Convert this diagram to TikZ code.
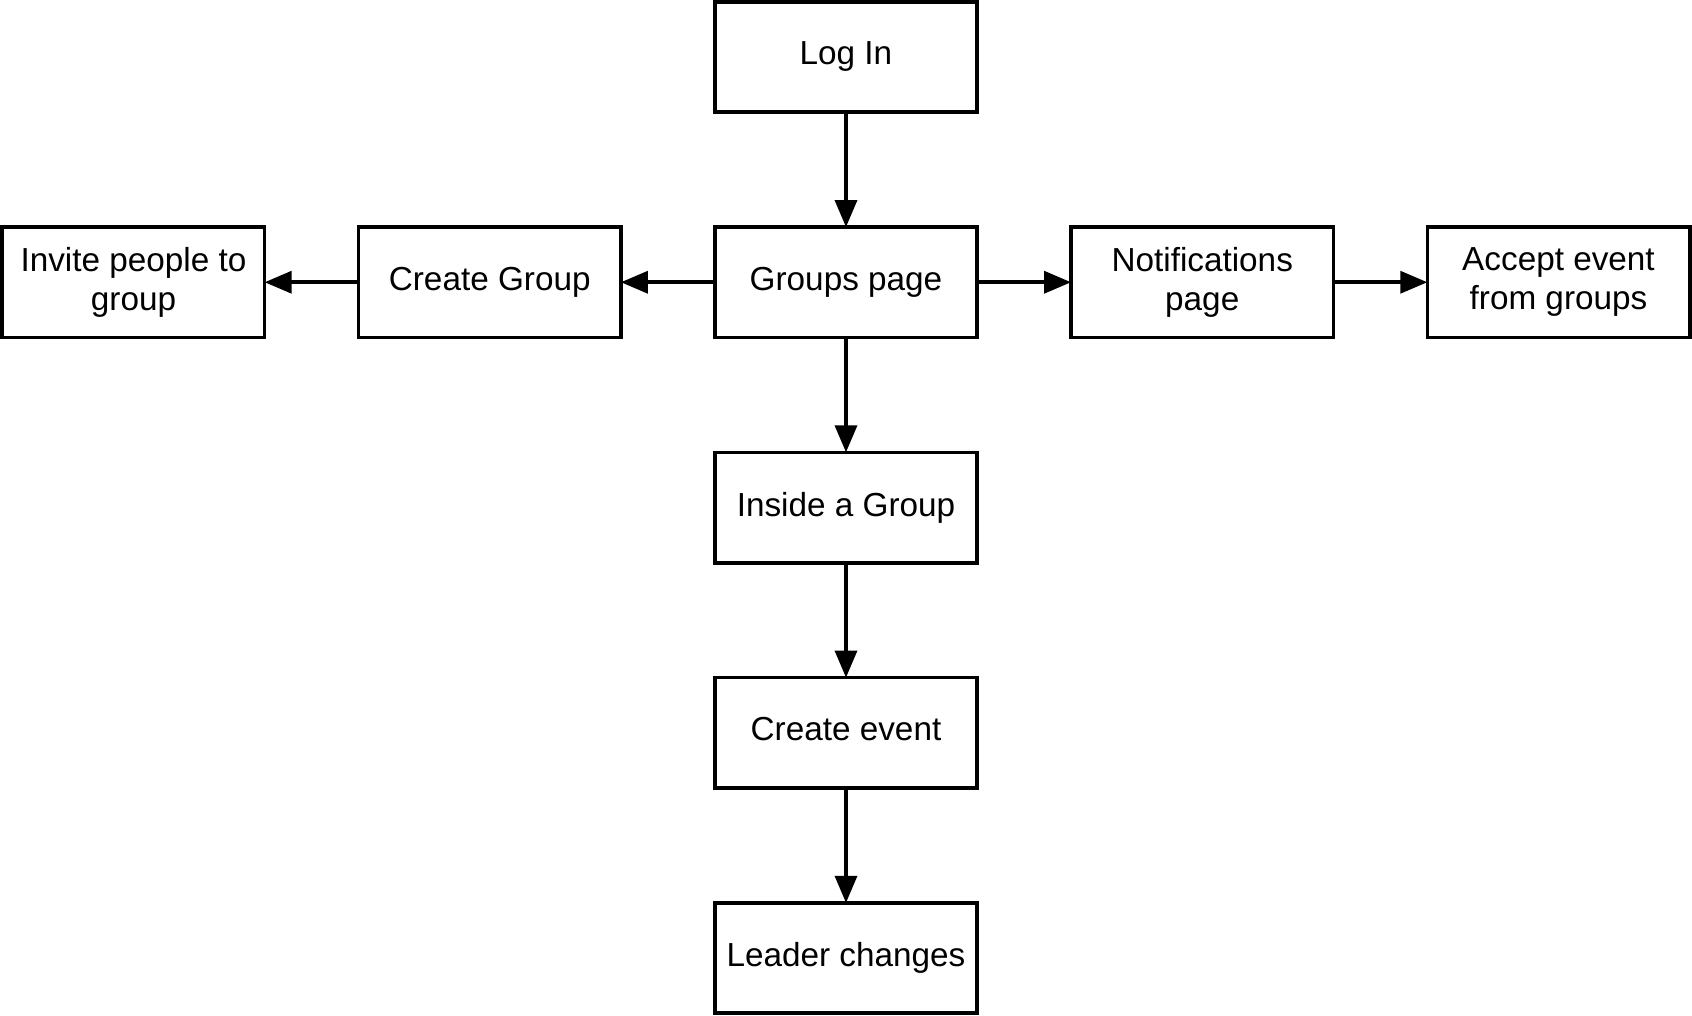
\documentclass[tikz,border=0pt]{standalone}
\usepackage{fontspec}
\setmainfont{Liberation Sans}
\usepackage{tikz}
\usetikzlibrary{positioning}
\usetikzlibrary{arrows.meta}

\tikzset{
  page/.style={draw, line width=3.6pt, outer sep=0pt, minimum width=262.4pt, minimum height=110.4pt,
    inner sep=0pt, text depth=7pt, align=center, font=\fontsize{33.3}{38.5}\selectfont},
  flow/.style={line width=3.6pt, -{Triangle[length=27pt,width=22pt]}}
}

\begin{document}
\begin{tikzpicture}

  \useasboundingbox (-846pt,57pt) rectangle (846pt,-959pt);

  % Define nodes
  \node[page]                                  (login)  {Log In};
  \node[page, below=114.85pt of login]         (groups) {Groups page};
  \node[page, left=93.85pt of groups]          (create) {Create Group};
  \node[page, left=93.85pt of create]          (invite) {Invite people to\\group};
  \node[page, right=93.85pt of groups]         (notif)  {Notifications\\page};
  \node[page, right=93.85pt of notif]          (accept) {Accept event\\from groups};
  \node[page, below=114.85pt of groups]        (inside) {Inside a Group};
  \node[page, below=114.85pt of inside]        (event)  {Create event};
  \node[page, below=114.85pt of event]         (leader) {Leader changes};

  % Connect the nodes
  \draw[flow] (login) -- (groups);
  \draw[flow] (groups) -- (create);
  \draw[flow] (create) -- (invite);
  \draw[flow] (groups) -- (notif);
  \draw[flow] (notif) -- (accept);
  \draw[flow] (groups) -- (inside);
  \draw[flow] (inside) -- (event);
  \draw[flow] (event) -- (leader);

\end{tikzpicture}
\end{document}
